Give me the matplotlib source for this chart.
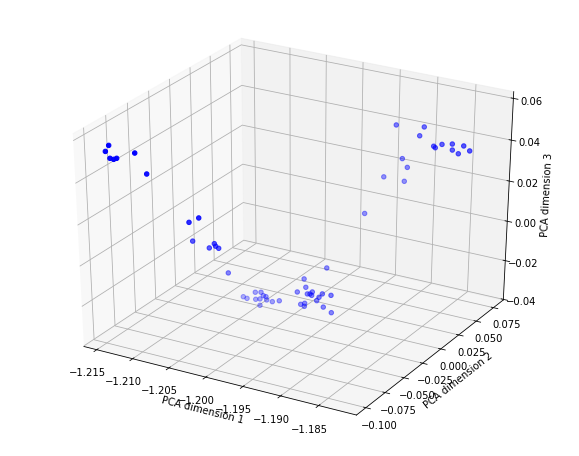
import numpy as np, matplotlib
matplotlib.use('Agg')
import matplotlib.pyplot as plt
from matplotlib.transforms import ScaledTranslation

upper_x = [-1.21474,-1.21523,-1.21464,-1.21414,-1.21373,-1.21186,-1.21094,-1.20657,-1.20524,-1.20843,-1.20673,-1.20603,-1.20585,-1.20544]
upper_y = [-.09,-.09,-.09,-.09,-.09,-.085,-.08,-.07,-.07,-.05,-.045,-.045,-.045,-.045]
upper_z = [.0541,.0509,.0481,.048,.0488,.0515,.0411,.0189,.0221,.003,-.0003,.0024,.0013,.0006]

lower_x = [-1.20641,-1.19709,-1.19916,-1.1984,-1.19905,-1.20488,-1.20408,-1.20657,-1.20605,-1.20483,-1.20423,-1.20376,-1.20339,-1.20329,-1.20251,-1.20154,-1.20424,-1.19767,-1.1973,-1.19699,-1.19707,-1.19562,-1.19607,-1.19638,-1.19444,-1.19858,-1.19803,-1.19808,-1.19548,-1.19438]
lower_y = [-.025,.015,.005,0,-.005,-.005,-.005,-.005,-.005,-.005,-.005,-.005,-.005,-.005,-.005,-.005,-.005,-.005,-.005,-.005,-.005,-.005,-.005,-.005,-.005,-.005,-.005,-.005,-.005,-.005]
lower_z = [-.0179,-.0182,-.02285,-.0251,-.0267,-.0319,-.0312,-.0357,-.0361,-.0355,-.0348,-.0327,-.0329,-.0345,-.0347,-.0334,-.0381,-.0265,-.0262,-.0249,-.0267,-.0247,-.0268,-.0288,-.0244,-.0326,-.0316,-.0332,-.0313,-.0332]

right_x = [-1.19444,-1.1907,-1.1908,-1.18844,-1.18822,-1.18735,-1.186,-1.18597,-1.18517,-1.1845,-1.1837,-1.19304,-1.19234,-1.195,-1.1927,-1.19554]
right_y = [.08,.08,.075,.07,.07,.07,.07,.07,.07,.07,.07,.075,.075,.07,.075,.05]
right_z = [.0389,.0407,.0375,.0354,.0348,.0371,.0383,.0354,.0342,.0385,.0367,.0246,.0208,.01525,.0136,.0015]

x_ticks = [-1.215,-1.21,-1.205,-1.2,-1.195,-1.19,-1.185]
y_ticks = [-0.1,-0.075,-0.05,-0.025,0,0.025,0.05,0.075]
z_ticks = [-0.04,-0.02,0,0.02,0.04,0.06]

W,H = 579,456
fig = plt.figure(figsize=(W/72,H/72),dpi=72)
ax = fig.add_axes([-2/W,(H-451)/H,582/W,449.4/H],projection='3d')
ax.set_box_aspect((1,1,1),zoom=1/1.1002)
ax.apply_aspect = lambda position=None: None
ax.set_xlim(-1.2168,-1.1801,view_margin=0)
ax.set_ylim(-0.112,0.0895,view_margin=0)
ax.set_zlim(-0.0403,0.0632,view_margin=0)
ax.set_xticks(x_ticks); ax.set_yticks(y_ticks); ax.set_zticks(z_ticks)
ax.tick_params(axis='x',pad=7.5)
ax.tick_params(axis='y',pad=5)
for t in ax.yaxis.get_major_ticks():
    t.label1.set_transform(t.label1.get_transform()+ScaledTranslation(-3/72,-4/72,fig.dpi_scale_trans))
ax.set_xlabel('PCA dimension 1',labelpad=3.9)
ax.set_ylabel('PCA dimension 2',labelpad=4.7)
ax.set_zlabel('PCA dimension 3')
xs = np.array(upper_x+lower_x+right_x)
ys = np.array(upper_y+lower_y+right_y)
zs = np.array(upper_z+lower_z+right_z)
ax.scatter(xs,ys,zs,c='b')
fig.savefig('out.png',dpi=72)
